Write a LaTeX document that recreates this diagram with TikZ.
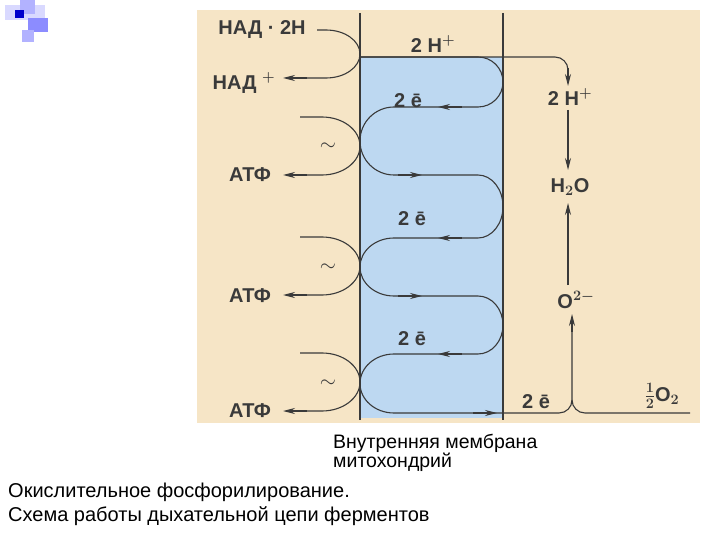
\documentclass[tikz,border=0pt]{standalone}
\usepackage{fontspec}
\setmainfont{Liberation Sans}
\usetikzlibrary{arrows.meta}
\definecolor{beige}{HTML}{F6E5C6}
\definecolor{memb}{HTML}{BDD8F1}
\definecolor{ink}{HTML}{3A3A3A}
\begin{document}
\begin{tikzpicture}[x=1pt,y=-1pt,
  ln/.style={draw=ink,line width=1.1pt},
  ar/.style={draw=ink,line width=1.1pt,-{Stealth[length=12pt,width=6pt]}},
  lbl/.style={text=ink,font=\fontsize{20}{20}\selectfont\bfseries\boldmath,inner sep=1pt},
  captext/.style={align=left,inner sep=0pt,anchor=north west}]
\useasboundingbox (0,0) rectangle (720,540);
\fill[white] (0,0) rectangle (720,540);
% decorative squares
\fill[blue!15] (5,5) rectangle (45,20);
\fill[blue!30] (20,0) rectangle (35,14);
\fill[blue!80!black] (15,10) rectangle (24,18);
\fill[blue!45] (28,18) rectangle (48,32);
\fill[blue!30] (22,30) rectangle (34,42);
\fill[beige] (197,10) rectangle (700,423);
\fill[memb] (360,57) rectangle (503,418);
\draw[ln] (360,13) -- (360,420);
\draw[ln] (503,13) -- (503,420);
% top proton line
\draw[ln] (360,57) -- (555,57) arc[start angle=-90,end angle=0,radius=13];
\draw[ar] (568,68) -- (568,86);
% electron path inside
\draw[ln] (360,57) -- (478,57) arc[start angle=-90,end angle=90,x radius=25,y radius=25] -- (394,107)
  arc[start angle=270,end angle=90,x radius=34,y radius=34] -- (478,175)
  arc[start angle=-90,end angle=90,x radius=25,y radius=31.5] -- (394,238)
  arc[start angle=270,end angle=90,x radius=34,y radius=29] -- (478,296)
  arc[start angle=-90,end angle=90,x radius=25,y radius=29] -- (394,354)
  arc[start angle=270,end angle=90,x radius=34,y radius=29.5] -- (559,413)
  arc[start angle=90,end angle=0,radius=13] -- (572,318);
\draw[ln] (690,413) -- (585,413) arc[start angle=90,end angle=180,radius=13];
\foreach \y in {107,238,354} \draw[ar] (462,\y) -- (438,\y);
\foreach \y in {175,296} \draw[ar] (398,\y) -- (422,\y);
\draw[ar] (473,413) -- (497,413);
\draw[ar] (572,332) -- (572,314);
% right vertical arrows
\draw[ar] (568,110) -- (568,170);
\draw[ar] (568,285) -- (568,203);
% outside curves
\draw[ln] (317,30) -- (326,30) arc[start angle=-90,end angle=90,x radius=34,y radius=24] -- (300,78);
\draw[ar] (307,78) -- (283,78);
\foreach \y in {117,237,353}{
  \draw[ln] (300,\y) -- (322,\y) arc[start angle=-90,end angle=90,x radius=38,y radius=29] -- (300,\y+58);
  \draw[ar] (307,\y+58) -- (283,\y+58);}
% labels
\node[lbl] (nadh) at (262,30) {НАД · 2Н};
\node[lbl] (nad) at (244,83) {НАД $^{+}$};
\node[lbl] (atf1) at (250,175) {АТФ};
\node[lbl] (atf2) at (250,296) {АТФ};
\node[lbl] (atf3) at (250,411) {АТФ};
\foreach \y [count=\i] in {147,268,384} \node[lbl,font=\huge] (t\i) at (328,\y) {$\sim$};
\node[lbl] (hp) at (433,44) {2 Н$^{+}$};
\node[lbl] (e1) at (408,101) {2 ē};
\node[lbl] (e2) at (412,219) {2 ē};
\node[lbl] (e3) at (412,339) {2 ē};
\node[lbl] (hp2) at (570,97) {2 Н$^{+}$};
\node[lbl] (h2o) at (570,187) {Н$_2$О};
\node[lbl] (o2m) at (576,300) {О$^{2-}$};
\node[lbl] (e4) at (536,402) {2 ē};
\node[lbl] (o2) at (662,396) {$\frac{1}{2}$О$_2$};
\node[captext,font=\fontsize{19.5}{19}\selectfont] (mem) at (333,434) {Внутренняя мембрана\\митохондрий};
\node[captext,font=\fontsize{20}{24}\selectfont] (title) at (8,483) {Окислительное фосфорилирование.\\Схема работы дыхательной цепи ферментов};
\end{tikzpicture}
\end{document}
